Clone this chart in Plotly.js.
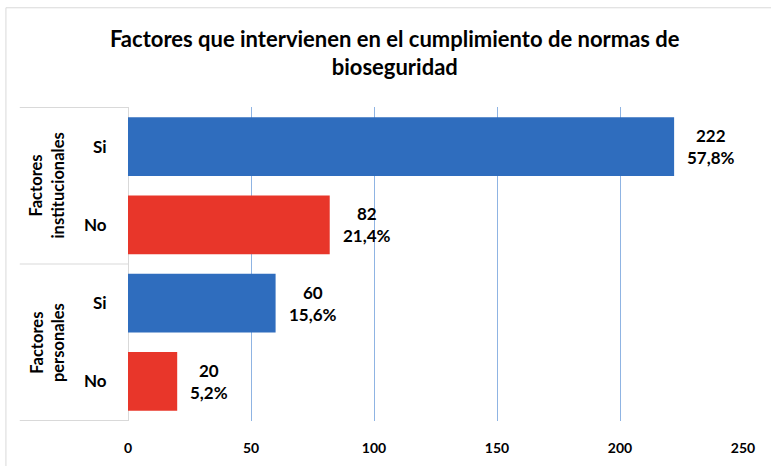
<!DOCTYPE html>
<html>
<head>
<meta charset="utf-8">
<script src="https://cdn.plot.ly/plotly-3.0.1.min.js"></script>
<style>html,body{margin:0;padding:0;background:#fff;}#chart{width:771px;height:466px;}</style>
</head>
<body>
<div id="chart"></div>
<script>
// Data
const groups = ["Factores institucionales", "Factores institucionales", "Factores personales", "Factores personales"];
const groupLabels = ["Factores<br>institucionales", "Factores<br>personales"];
const answers = ["Si", "No", "Si", "No"];
const counts = [222, 82, 60, 20];
const percents = ["57,8%", "21,4%", "15,6%", "5,2%"];
const xTicks = [0, 50, 100, 150, 200, 250];

const FONT = "Lato, 'Open Sans', sans-serif";
const BLUE = "#2F6DBE";
const RED = "#E8362A";

const ids = groups.map((g, i) => g + " | " + answers[i]);
const colors = answers.map(a => a === "Si" ? BLUE : RED);

const trace = {
  type: "bar",
  orientation: "h",
  x: counts,
  y: ids,
  marker: {color: colors},
  width: 0.75,
  hoverinfo: "none"
};

const annotations = ids.map((id, i) => ({
  x: counts[i], y: id, xref: "x", yref: "y",
  text: "<b>" + counts[i] + "<br>" + percents[i] + "</b>",
  showarrow: false, xanchor: "left", xshift: 11, align: "center",
  font: {family: FONT, size: 17, color: "#000"}
}));

// group labels (rotated)
const uniqueGroups = [...new Set(groups)];
uniqueGroups.forEach((g, k) => {
  const idx = groups.map((x, i) => x === g ? i : -1).filter(i => i >= 0);
  const mid = (idx[0] + idx[idx.length - 1]) / 2;
  annotations.push({
    x: -0.132, xref: "paper", y: mid, yref: "y",
    text: "<b>" + groupLabels[k] + "</b>", textangle: -90,
    showarrow: false, xanchor: "center", yanchor: "middle", align: "center",
    font: {family: FONT, size: 16.5, color: "#000"}
  });
});

const shapes = [];
const LINE = {color: "#D9D9D9", width: 1};
// horizontal separators in the category area
const bounds = [-0.5];
uniqueGroups.forEach(g => {
  const last = groups.lastIndexOf(g);
  bounds.push(last + 0.5);
});
bounds.forEach(b => shapes.push({type: "line", xref: "paper", yref: "y", x0: -0.176, x1: 0, y0: b, y1: b, line: LINE}));
// outer frame
shapes.push({type: "rect", xref: "paper", yref: "paper", x0: -0.1985, x1: 1.5, y0: -0.5, y1: 1.316, line: LINE, layer: "below"});

const layout = {
  width: 771, height: 466,
  margin: {l: 128, r: 28, t: 107, b: 45},
  paper_bgcolor: "#fff", plot_bgcolor: "#fff",
  title: {
    text: "<b>Factores que intervienen en el cumplimiento de normas de<br>bioseguridad</b>",
    x: 0.512, xanchor: "center", yref: "container", y: 0.9, yanchor: "middle",
    font: {family: FONT, size: 22, color: "#000"}
  },
  showlegend: false,
  xaxis: {
    range: [0, 250], tickvals: xTicks, ticktext: xTicks.map(v => "<b>" + v + "</b>"),
    showgrid: true, gridcolor: "#8FB4E3", gridwidth: 1,
    zeroline: true, zerolinecolor: "#D9D9D9", zerolinewidth: 1,
    showline: false, ticks: "outside", ticklen: 14, tickcolor: "rgba(0,0,0,0)",
    tickfont: {family: FONT, size: 14, color: "#000"},
    fixedrange: true
  },
  yaxis: {
    type: "category", categoryorder: "array", categoryarray: ids,
    autorange: "reversed",
    tickvals: ids, ticktext: answers.map(a => "<b>" + a + "</b>"),
    showgrid: false, zeroline: false, showline: false,
    ticks: "outside", ticklen: 17, tickcolor: "rgba(0,0,0,0)",
    tickfont: {family: FONT, size: 17, color: "#000"},
    fixedrange: true
  },
  annotations: annotations,
  shapes: shapes
};

Plotly.newPlot("chart", [trace], layout, {displayModeBar: false, staticPlot: true});
</script>
</body>
</html>
